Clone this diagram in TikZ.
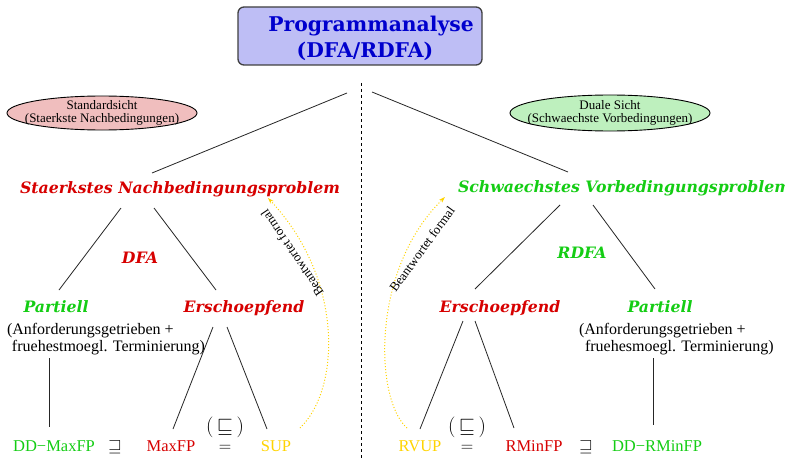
\documentclass[tikz,border=0pt]{standalone}
\usepackage{fontspec}
\usepackage{amssymb}
\setmainfont{Liberation Serif}
\newfontfamily\headfont{DejaVu Serif}
\usetikzlibrary{arrows.meta,shapes.geometric}
\definecolor{redc}{RGB}{215,0,0}
\definecolor{greenc}{RGB}{20,205,20}
\definecolor{yellowc}{RGB}{255,212,0}
\definecolor{bluec}{RGB}{0,0,205}
\definecolor{titlefill}{RGB}{190,190,245}
\definecolor{pinkfill}{RGB}{240,190,190}
\definecolor{mintfill}{RGB}{190,240,190}
\begin{document}
\begin{tikzpicture}[x=1pt,y=-1pt,
  every node/.style={inner sep=0pt,outer sep=0pt},
  conn/.style={draw=black!85,line width=0.8pt},
  titlebox/.style={draw=black!75,line width=1.3pt,fill=titlefill,rounded corners=6pt,minimum width=244pt,minimum height=58pt},
  titletext/.style={font=\headfont\bfseries\fontsize{20.3}{26}\selectfont,text=bluec,anchor=base},
  viewshape/.style={ellipse,draw=black,line width=0.9pt},
  viewtext/.style={align=center,font=\fontsize{13}{12.5}\selectfont},
  head/.style={font=\headfont\bfseries\itshape\fontsize{15.7}{18}\selectfont,anchor=base},
  body/.style={font=\fontsize{16}{17}\selectfont,align=left,anchor=north west},
  leaf/.style={font=\fontsize{16.5}{18}\selectfont,anchor=base},
  rel/.style={font=\fontsize{18}{18}\selectfont,anchor=base},
  relbig/.style={font=\fontsize{20}{20}\selectfont,anchor=base},
  answer/.style={draw=yellowc,dotted,line width=1pt,-{Stealth[length=6pt,width=4pt]}},
  note/.style={font=\fontsize{13}{13}\selectfont}]
\useasboundingbox (0,0) rectangle (785,460);
\fill[white] (0,0) rectangle (785,460);
% title
\node[titlebox] (tbox) at (360,36) {};
\node[titletext] (title1) at (371,32) {Programmanalyse};
\node[titletext] (title2) at (365,58) {(DFA/RDFA)};
% views
\node[viewshape,fill=pinkfill,minimum width=190pt,minimum height=34pt] (sview) at (102,113) {};
\node[viewtext] (sviewtext) at (sview.center) {Standardsicht\\(Staerkste Nachbedingungen)};
\node[viewshape,fill=mintfill,minimum width=200pt,minimum height=36pt] (dview) at (610,113) {};
\node[viewtext] (dviewtext) at (dview.center) {Duale Sicht\\(Schwaechste Vorbedingungen)};
% dashed separator
\coordinate (sepTop) at (361,83);
\coordinate (sepBot) at (361,460);
\draw[black,line width=0.8pt,dash pattern=on 3pt off 3pt] (sepTop) -- (sepBot);
% headings
\node[head,text=redc] (snp) at (180,193) {Staerkstes Nachbedingungsproblem};
\node[head,text=greenc,anchor=base west] (svp) at (458,192) {Schwaechstes Vorbedingungsproblem};
\node[head,text=redc] (dfa) at (140,263) {DFA};
\node[head,text=greenc] (rdfa) at (582,258) {RDFA};
\node[head,text=greenc] (lpart) at (56,312) {Partiell};
\node[head,text=redc] (lersch) at (244,312) {Erschoepfend};
\node[head,text=redc] (rersch) at (500,312) {Erschoepfend};
\node[head,text=greenc] (rpart) at (660,312) {Partiell};
\node[body] (ldesc) at (7,323) {(Anforderungsgetrieben +\\\hspace{5pt}fruehestmoegl. Terminierung)};
\node[body] (rdesc) at (579,323) {(Anforderungsgetrieben +\\\hspace{6pt}fruehesmoegl. Terminierung)};
% leaves
\node[leaf,text=greenc] (ddmax) at (54,451) {DD−MaxFP};
\node[rel] (lsup) at (115,451) {$\sqsupseteq$};
\node[leaf,text=redc] (maxfp) at (171,451) {MaxFP};
\node[relbig] (lsub) at (225,432) {$(\,\sqsubseteq\,)$};
\node[rel] (leq) at (225,451) {$=$};
\node[leaf,text=yellowc] (sup) at (276,451) {SUP};
\node[leaf,text=yellowc] (rvup) at (420,451) {RVUP};
\node[relbig] (rsub) at (467,432) {$(\,\sqsubseteq\,)$};
\node[rel] (req) at (467,451) {$=$};
\node[leaf,text=redc] (rminfp) at (534,451) {RMinFP};
\node[rel] (rsup) at (586,451) {$\sqsupseteq$};
\node[leaf,text=greenc] (ddrmin) at (657,451) {DD−RMinFP};
% connector end points
\coordinate (tl) at (347,93);
\coordinate (tr) at (372,92);
\coordinate (snpT) at (152,173);
\coordinate (svpT) at (568,172);
\coordinate (snpL) at (121,208);
\coordinate (snpR) at (154,208);
\coordinate (lpartT) at (59,290);
\coordinate (lerschT) at (216,290);
\coordinate (svpL) at (560,205);
\coordinate (svpR) at (593,205);
\coordinate (rerschT) at (475,289);
\coordinate (rpartT) at (655,289);
\coordinate (ldescB) at (49,358);
\coordinate (ddmaxT) at (49,427);
\coordinate (rdescB) at (653,358);
\coordinate (ddrminT) at (653,425);
\coordinate (lerschL) at (213,327);
\coordinate (lerschR) at (227,327);
\coordinate (maxfpT) at (173,429);
\coordinate (supT) at (267,429);
\coordinate (rerschL) at (463,321);
\coordinate (rerschR) at (475,321);
\coordinate (rvupT) at (420,429);
\coordinate (rminT) at (514,428);
\coordinate (supE) at (300,428);
\coordinate (snpA) at (268,198);
\coordinate (rvupE) at (407,428);
\coordinate (svpA) at (445,197);
% tree connectors
\draw[conn] (tl) -- (snpT);
\draw[conn] (tr) -- (svpT);
\draw[conn] (snpL) -- (lpartT);
\draw[conn] (snpR) -- (lerschT);
\draw[conn] (svpL) -- (rerschT);
\draw[conn] (svpR) -- (rpartT);
\draw[conn] (ldescB) -- (ddmaxT);
\draw[conn] (rdescB) -- (ddrminT);
\draw[conn] (lerschL) -- (maxfpT);
\draw[conn] (lerschR) -- (supT);
\draw[conn] (rerschL) -- (rvupT);
\draw[conn] (rerschR) -- (rminT);
% answer arcs
\draw[answer] (supE) .. controls (340,390) and (345,280) .. (snpA);
\draw[answer] (rvupE) .. controls (375,400) and (370,270) .. (svpA);
\node[note,rotate=124] (lnote) at (292,253) {Beantwortet formal};
\node[note,rotate=54] (rnote) at (422,249) {Beantwortet formal};
\end{tikzpicture}
\end{document}
